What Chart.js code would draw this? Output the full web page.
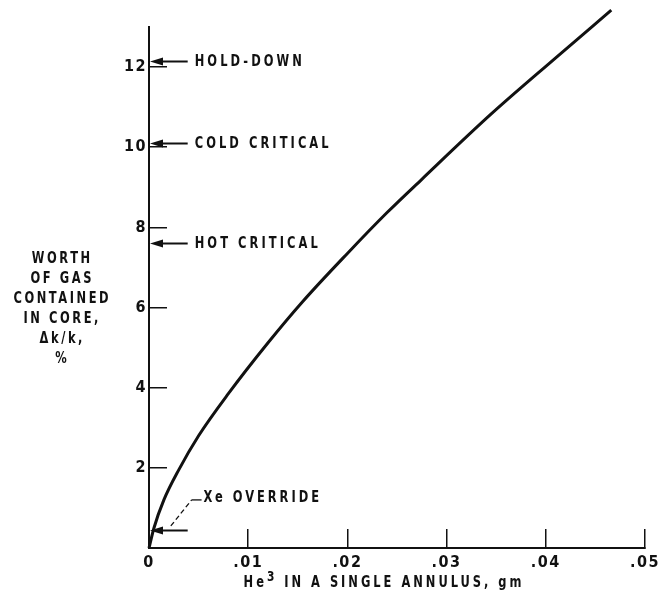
<!DOCTYPE html>
<html>
<head>
<meta charset="utf-8">
<title>Worth of He3 gas contained in core</title>
<script src="https://cdn.jsdelivr.net/npm/chart.js@4.4.1/dist/chart.umd.min.js"></script>
<style>
  html, body { margin: 0; padding: 0; background: #ffffff; }
  #wrap { width: 659px; height: 601px; }
</style>
</head>
<body>
<div id="wrap"><canvas id="chart" width="659" height="601"></canvas></div>
<script>
// He3 mass in a single annulus (gm) and worth of gas contained in core (dk/k, %)
const he3Mass = [0, 0.0005, 0.0015, 0.003, 0.005, 0.008, 0.012, 0.0155, 0.020, 0.024, 0.0275, 0.0345, 0.041, 0.0466];
const gasWorth = [0, 0.5, 1.2, 1.95, 2.8, 3.85, 5.12, 6.15, 7.35, 8.37, 9.2, 10.83, 12.23, 13.42];

// axis ticks
const xTickValues = [0, 0.01, 0.02, 0.03, 0.04, 0.05];
const xTickLabels = ['0', '.01', '.02', '.03', '.04', '.05'];
const yTickValues = [2, 4, 6, 8, 10, 12];
const yTickLabels = ['2', '4', '6', '8', '10', '12'];

// reactivity levels marked on the worth axis
const levelNames = ['HOLD-DOWN', 'COLD CRITICAL', 'HOT CRITICAL', 'Xe OVERRIDE'];
const levelValues = [12.15, 10.1, 7.6, 0.45];

// axis titles
const yTitleLines = ['WORTH', 'OF GAS', 'CONTAINED', 'IN CORE,', '\u0394k/k,', '%'];
const xTitleBase = 'He';
const xTitleSup = '3';
const xTitleRest = ' IN A SINGLE ANNULUS, gm';

const INK = '#111111';
const FONT = "'Liberation Sans Narrow', 'DejaVu Sans Condensed', 'Arial Narrow', sans-serif";
const SQUEEZE = 0.85;

// draws lettering narrowed horizontally, with open letter spacing
function letter(ctx, text, x, y, size, spacing, align) {
  ctx.save();
  ctx.translate(x, y);
  ctx.scale(SQUEEZE, 1);
  ctx.font = 'bold ' + size + 'px ' + FONT;
  ctx.letterSpacing = spacing + 'px';
  ctx.textBaseline = 'middle';
  ctx.textAlign = 'left';
  const w = ctx.measureText(text).width - spacing;
  let dx = 0;
  if (align === 'center') dx = -w / 2;
  ctx.fillText(text, dx, 0);
  ctx.restore();
  return w * SQUEEZE;
}

function letterWidth(ctx, text, size, spacing) {
  ctx.save();
  ctx.font = 'bold ' + size + 'px ' + FONT;
  ctx.letterSpacing = spacing + 'px';
  const w = ctx.measureText(text).width * SQUEEZE;
  ctx.restore();
  return w;
}

const levelPlugin = {
  id: 'levelMarks',
  beforeDraw(chart) {
    chart.ctx.letterSpacing = '1.5px';
  },
  afterDraw(chart) {
    const ctx = chart.ctx;
    const xs = chart.scales.x;
    const ys = chart.scales.y;
    const axisX = xs.getPixelForValue(0);
    const lineEnd = xs.getPixelForValue(0.0039);

    ctx.save();
    ctx.strokeStyle = INK;
    ctx.fillStyle = INK;
    ctx.lineWidth = 2;

    // arrows pointing at the worth axis
    levelValues.forEach((v) => {
      const y = Math.round(ys.getPixelForValue(v)) + 0.5;
      const tip = axisX + 1;
      ctx.beginPath();
      ctx.moveTo(tip + 8, y);
      ctx.lineTo(lineEnd, y);
      ctx.stroke();
      ctx.beginPath();
      ctx.moveTo(tip, y);
      ctx.lineTo(tip + 13, y - 4);
      ctx.lineTo(tip + 13, y + 4);
      ctx.closePath();
      ctx.fill();
    });

    // level labels
    for (let i = 0; i < 3; i++) {
      letter(ctx, levelNames[i], lineEnd + 7, ys.getPixelForValue(levelValues[i]) + 1, 15, 3.6);
    }

    // Xe override label with its dashed leader
    ctx.lineWidth = 1.3;
    ctx.setLineDash([5, 3]);
    ctx.beginPath();
    ctx.moveTo(xs.getPixelForValue(0.0022), ys.getPixelForValue(0.55));
    ctx.lineTo(xs.getPixelForValue(0.0043), ys.getPixelForValue(1.2));
    ctx.stroke();
    ctx.setLineDash([]);
    ctx.beginPath();
    ctx.moveTo(xs.getPixelForValue(0.0043), ys.getPixelForValue(1.2));
    ctx.lineTo(xs.getPixelForValue(0.0053), ys.getPixelForValue(1.2));
    ctx.stroke();
    letter(ctx, levelNames[3], xs.getPixelForValue(0.0055), ys.getPixelForValue(1.25), 15, 3.5);

    // worth axis title, stacked horizontally left of the axis
    const cx = chart.chartArea.left - 88;
    const y0 = ys.getPixelForValue(7.2);
    yTitleLines.forEach((t, i) => {
      letter(ctx, t, cx, y0 + i * 20, 15, 3, 'center');
    });

    // mass axis title with superscript
    const wBase = letterWidth(ctx, xTitleBase, 15, 3.5);
    const wSup = letterWidth(ctx, xTitleSup, 14, 3.5);
    const wRest = letterWidth(ctx, xTitleRest, 15, 3.5);
    const total = wBase + wSup + wRest;
    const ty = 583;
    let tx = 384 - total / 2;
    letter(ctx, xTitleBase, tx, ty, 15, 3.5);
    tx += wBase;
    letter(ctx, xTitleSup, tx, ty - 6, 14, 3.5);
    tx += wSup;
    letter(ctx, xTitleRest, tx, ty, 15, 3.5);

    ctx.restore();
  }
};

new Chart(document.getElementById('chart'), {
  type: 'line',
  data: {
    datasets: [{
      data: he3Mass.map((m, i) => ({ x: m, y: gasWorth[i] })),
      borderColor: INK,
      borderWidth: 3,
      pointRadius: 0,
      fill: false,
      cubicInterpolationMode: 'monotone',
      clip: false
    }]
  },
  options: {
    responsive: false,
    animation: false,
    devicePixelRatio: 1,
    layout: { padding: { top: 27, right: 14, bottom: 0, left: 0 } },
    plugins: {
      legend: { display: false },
      tooltip: { enabled: false },
      title: { display: false }
    },
    scales: {
      x: {
        type: 'linear',
        position: 'bottom',
        min: 0,
        max: 0.05,
        afterBuildTicks: (scale) => { scale.ticks = xTickValues.map(v => ({ value: v })); },
        afterFit: (scale) => {
          scale.height = 53;
          scale.paddingLeft = 0;
          scale.paddingRight = 0;
        },
        ticks: {
          color: INK,
          font: { family: FONT, size: 16, weight: 'bold' },
          padding: 24,
          maxRotation: 0,
          autoSkip: false,
          callback: (v, i) => xTickLabels[i]
        },
        grid: {
          drawOnChartArea: false,
          drawTicks: true,
          tickLength: -19,
          color: INK,
          lineWidth: 1.5
        },
        border: { display: true, color: INK, width: 2 }
      },
      y: {
        type: 'linear',
        position: 'left',
        min: 0,
        max: 13,
        afterBuildTicks: (scale) => { scale.ticks = yTickValues.map(v => ({ value: v })); },
        afterFit: (scale) => {
          scale.width = 149;
          scale.paddingTop = 0;
          scale.paddingBottom = 0;
        },
        ticks: {
          color: INK,
          font: { family: FONT, size: 16, weight: 'bold' },
          padding: 20,
          autoSkip: false,
          callback: (v, i) => yTickLabels[i]
        },
        grid: {
          drawOnChartArea: false,
          drawTicks: true,
          tickLength: -18,
          color: INK,
          lineWidth: 1.5
        },
        border: { display: true, color: INK, width: 2 }
      }
    }
  },
  plugins: [levelPlugin]
});
</script>
</body>
</html>
